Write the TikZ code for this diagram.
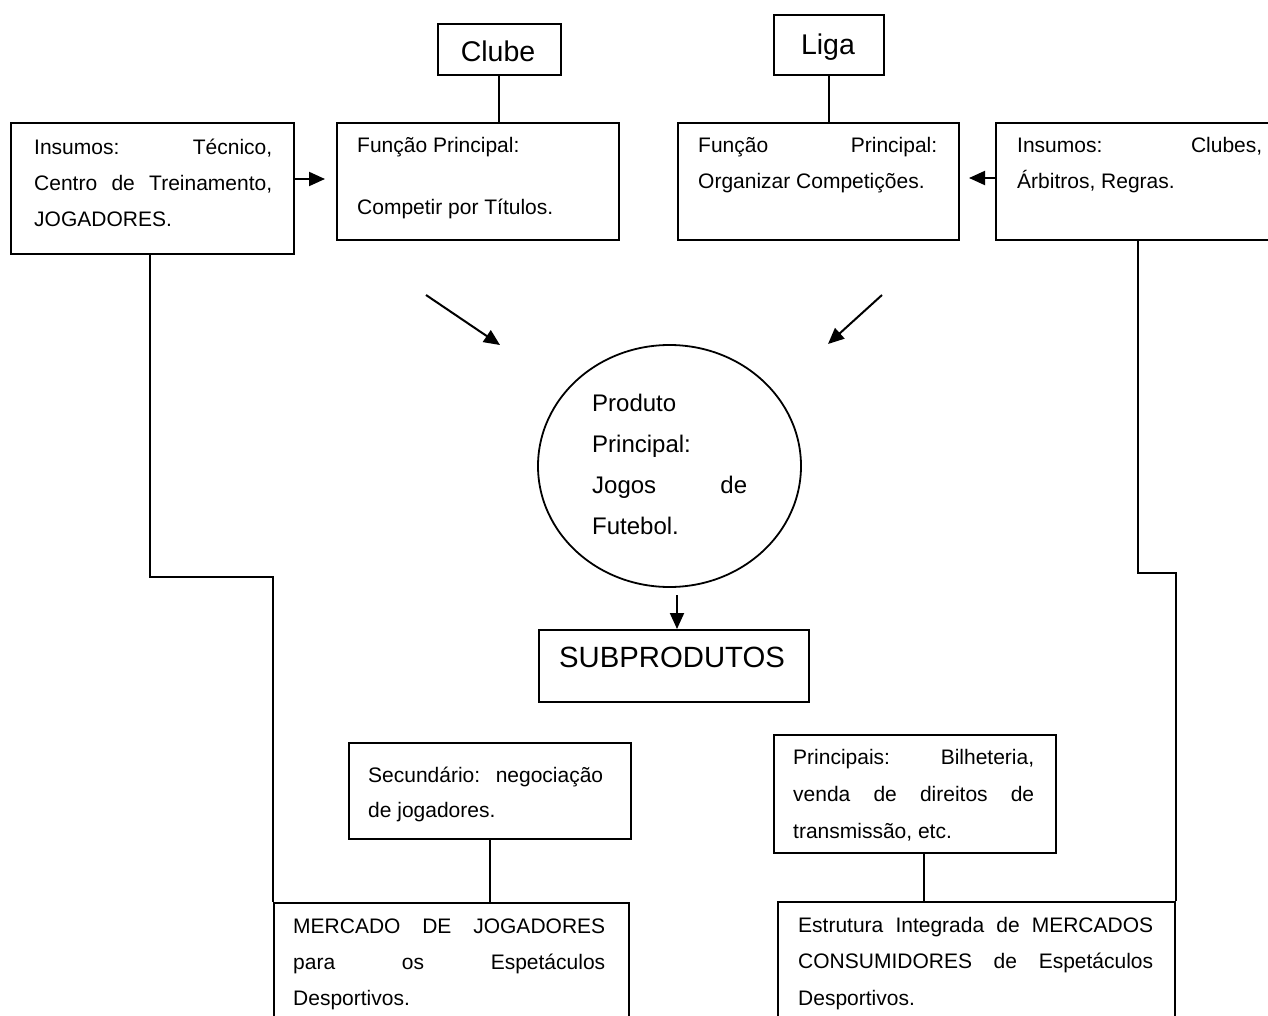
\documentclass[tikz,border=0pt]{standalone}
\usepackage{fontspec}
\setmainfont{Liberation Sans}
\usetikzlibrary{shapes.geometric,arrows.meta}
\newcommand\txtblock[2]{\parbox[t]{#1}{\sloppy #2}}
\begin{document}
\begin{tikzpicture}[x=1pt,y=-1pt,
  box/.style={draw, line width=2pt, inner sep=0pt, anchor=north west},
  link/.style={line width=2pt},
  arr/.style={line width=2pt, -{Triangle[length=16pt,width=14pt]}},
  txt/.style={inner sep=0pt, anchor=base west, font=\fontsize{21}{36}\selectfont},
  big/.style={inner sep=0pt, anchor=base, font=\fontsize{28.5}{34}\selectfont},
]
\useasboundingbox (0,0) rectangle (1268,1016);
\fill[white] (0,0) rectangle (1268,1016);
\clip (0,0) rectangle (1268,1016);

% ---------- boxes ----------
\node[box, minimum width=123pt, minimum height=51pt] (clube) at (436.5,23) {};
\node[box, minimum width=110pt, minimum height=60pt] (liga) at (773,14) {};
\node[box, minimum width=283pt, minimum height=130.5pt] (insL) at (10,122.5) {};
\node[box, minimum width=282pt, minimum height=116.5pt] (fclube) at (336,122.5) {};
\node[box, minimum width=281pt, minimum height=116.5pt] (fliga) at (677,122.5) {};
\node[box, minimum width=320pt, minimum height=116.5pt] (insR) at (995,122.5) {};
\node[draw, ellipse, line width=1.8pt, minimum width=263pt, minimum height=242pt, inner sep=0pt] (prod) at (669.5,466) {};
\node[box, minimum width=270pt, minimum height=72pt] (sub) at (538,629) {};
\node[box, minimum width=282pt, minimum height=96pt] (sec) at (348,742) {};
\node[box, minimum width=355pt, minimum height=150pt] (merc) at (273,902) {};
\node[box, minimum width=282pt, minimum height=118pt] (princ) at (773,734) {};
\node[box, minimum width=397pt, minimum height=150pt] (estr) at (777,901) {};

% ---------- texts ----------
\node[big] (tclube) at (498,62) {Clube};
\node[big] (tliga) at (828,55) {Liga};
\node[txt] (tinsL) at (34,155) {\txtblock{238pt}{Insumos: Técnico,\linebreak Centro de Treinamento,\linebreak JOGADORES.}};
\node[txt] (tfclube) at (357,153) {\txtblock{250pt}{Função Principal:\\[26pt]Competir por Títulos.}};
\node[txt] (tfliga) at (698,153) {\txtblock{239pt}{Função Principal:\linebreak Organizar Competições.}};
\node[txt] (tinsR) at (1017,153) {\txtblock{245pt}{Insumos: Clubes,\linebreak Árbitros, Regras.}};
\node[txt, font=\fontsize{24}{41.3}\selectfont] (tprod) at (592,411) {\txtblock{155pt}{Produto\\ Principal:\\ Jogos\hfill de\\ Futebol.}};
\node[big, font=\fontsize{29.3}{34}\selectfont] (tsub) at (672,667) {SUBPRODUTOS};
\node[txt, font=\fontsize{21}{35}\selectfont] (tsec) at (368,782) {\txtblock{235pt}{Secundário: negociação\linebreak de jogadores.}};
\node[txt] (tmerc) at (293,933) {\txtblock{312pt}{MERCADO DE JOGADORES\linebreak para os Espetáculos\linebreak Desportivos.}};
\node[txt, font=\fontsize{21}{37}\selectfont] (tprinc) at (793,764) {\txtblock{241pt}{Principais: Bilheteria,\linebreak venda de direitos de\linebreak transmissão, etc.}};
\node[txt, font=\fontsize{21}{36.5}\selectfont] (testr) at (798,932) {\txtblock{355pt}{Estrutura Integrada de MERCADOS\linebreak CONSUMIDORES de Espetáculos\linebreak Desportivos.}};

% ---------- helper coordinates ----------
\coordinate (ya) at (0,179);
\coordinate (yb) at (0,178);
\coordinate (xl) at (150,0);
\coordinate (xr) at (1138,0);
\coordinate (xp) at (924,0);
\coordinate (lb) at (150,577);
\coordinate (rb) at (1138,573);
\coordinate (dL1) at (426,295);
\coordinate (dL2) at (500,345);
\coordinate (dR1) at (882,295);
\coordinate (dR2) at (828,344);
\coordinate (dd) at (677,595);

% ---------- connectors ----------
\draw[link] (clube.south) -- (clube.south |- fclube.north);
\draw[link] (liga.south) -- (liga.south |- fliga.north);
\draw[arr, shorten >=11pt] (insL.east |- ya) -- (fclube.west |- ya);
\draw[arr, shorten >=9pt] (insR.west |- yb) -- (fliga.east |- yb);
\draw[arr] (dL1) -- (dL2);
\draw[arr] (dR1) -- (dR2);
\draw[arr] (dd) -- (dd |- sub.north);
\draw[link] (insL.south -| xl) -- (lb) -| (merc.north west);
\draw[link] (insR.south -| xr) -- (rb) -| (estr.north east);
\draw[link] (sec.south) -- (sec.south |- merc.north);
\draw[link] (princ.south -| xp) -- (xp |- estr.north);
\end{tikzpicture}
\end{document}
